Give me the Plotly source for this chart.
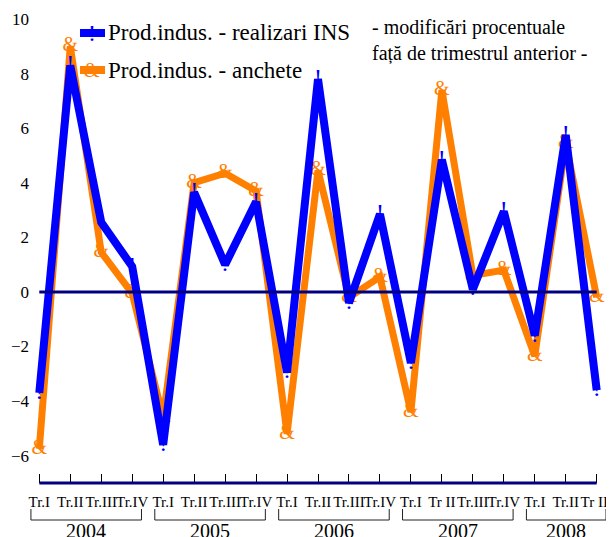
import plotly.graph_objects as go

# quarterly % change vs previous quarter
quarters = ["Tr.I", "Tr.II", "Tr.III", "Tr.IV",
            "Tr.I", "Tr.II", "Tr.III", "Tr.IV",
            "Tr.I", "Tr.II", "Tr.III", "Tr.IV",
            "Tr.I", "Tr II", "Tr.III", "Tr.IV",
            "Tr.I", "Tr.II", "Tr III"]
years = ["2004", "2005", "2006", "2007", "2008"]
quarters_per_year = [4, 4, 4, 4, 3]

realizari_ins = [-3.7, 8.3, 2.55, 0.93, -5.6, 3.65, 1.0, 3.3, -2.95, 7.8,
                 -0.4, 2.85, -2.6, 4.85, 0.1, 2.95, -1.6, 5.75, -3.6]
anchete = [-5.75, 9.0, 1.45, -0.05, -4.6, 4.0, 4.35, 3.7, -5.2, 4.45,
           -0.2, 0.55, -4.4, 7.4, 0.6, 0.8, -2.35, 5.45, -0.2]

y_ticks = [-6, -4, -2, 0, 2, 4, 6, 8, 10]

# page is 614x537 but the body has an 8px margin, so the figure starts at (8, 8)
OFF = 8
W, H = 614 - OFF, 537 - OFF
L, R, T, B = 30 - OFF, 8, 19 - OFF, 54
FONT = "Times New Roman, Liberation Serif, DejaVu Serif, serif"
BLUE = "#0000FF"
ORANGE = "#FF8000"
NAVY = "#000080"


def px_x(p):
    # page pixel -> paper fraction
    return (p - OFF - L) / (W - L - R)


def px_y(p):
    return (H - B - (p - OFF)) / (H - T - B)


x = list(range(len(quarters)))

fig = go.Figure()

fig.add_trace(go.Scatter(
    x=x, y=anchete, mode="lines+text", text=["&"] * len(x),
    textposition="middle center", cliponaxis=False,
    textfont=dict(family=FONT, size=20, color=ORANGE),
    line=dict(color=ORANGE, width=7), showlegend=False,
))
fig.add_trace(go.Scatter(
    x=x, y=realizari_ins, mode="lines+text", text=["!"] * len(x),
    textposition="middle center", cliponaxis=False,
    textfont=dict(family=FONT, size=24, color=BLUE),
    line=dict(color=BLUE, width=8), showlegend=False,
))

shapes = []
# zero line and bottom axis line
shapes.append(dict(type="line", xref="x", yref="y", x0=x[0], x1=x[-1], y0=0, y1=0,
                   line=dict(color=NAVY, width=3), layer="above"))
shapes.append(dict(type="line", xref="x", yref="paper", x0=x[0], x1=x[-1], y0=0, y1=0,
                   line=dict(color=NAVY, width=3), layer="above"))

# year brackets under the quarter labels
annotations = []
start = 0
for yr, n in zip(years, quarters_per_year):
    x0, x1 = start - 0.27, start + n - 1 + 0.3
    yt, yb = px_y(509), px_y(520)
    shapes.append(dict(type="path", xref="x", yref="paper",
                       path=f"M {x0},{yt} L {x0},{yb} L {x1},{yb} L {x1},{yt}",
                       line=dict(color="#222222", width=1)))
    annotations.append(dict(x=(x0 + x1) / 2, y=px_y(531), xref="x", yref="paper",
                            text=yr, showarrow=False, xanchor="center", yanchor="middle",
                            font=dict(family=FONT, size=20, color="black")))
    start += n

# hand-made legend
legend_rows = [("Prod.indus. - realizari INS", BLUE, "!", 24, 33),
               ("Prod.indus. - anchete", ORANGE, "&", 20, 70)]
for label, col, glyph, gsize, py in legend_rows:
    shapes.append(dict(type="line", xref="paper", yref="paper",
                       x0=px_x(80), x1=px_x(105), y0=px_y(py), y1=px_y(py),
                       line=dict(color=col, width=8), layer="above"))
    annotations.append(dict(x=px_x(92), y=px_y(py), xref="paper", yref="paper",
                            text=glyph, showarrow=False, xanchor="center", yanchor="middle",
                            font=dict(family=FONT, size=gsize, color=col)))
    annotations.append(dict(x=px_x(106), y=px_y(py), xref="paper", yref="paper",
                            text=label, showarrow=False, xanchor="left", yanchor="middle",
                            font=dict(family=FONT, size=23, color="black")))

annotations.append(dict(x=px_x(370), y=px_y(14), xref="paper", yref="paper",
                        text="- modificări procentuale<br>față de trimestrul anterior -",
                        showarrow=False, xanchor="left", yanchor="top", align="left",
                        font=dict(family=FONT, size=20, color="black")))

fig.update_layout(
    width=W, height=H,
    margin=dict(l=L, r=R, t=T, b=B),
    paper_bgcolor="white", plot_bgcolor="white",
    font=dict(family=FONT, color="black"),
    shapes=shapes, annotations=annotations,
    xaxis=dict(range=[-0.3, len(x) - 0.7], tickvals=x, ticktext=quarters,
               ticks="inside", ticklen=9, tickcolor="black", tickwidth=1,
               tickangle=0, automargin=False,
               showline=False, showgrid=False, zeroline=False,
               tickfont=dict(family=FONT, size=15, color="black"),
               ticklabelstandoff=8),
    yaxis=dict(range=[-7, 10], tickvals=y_ticks, ticks="", automargin=False,
               showline=False, showgrid=False, zeroline=False,
               tickfont=dict(family=FONT, size=17, color="black")),
)

fig.write_html("out.html")
